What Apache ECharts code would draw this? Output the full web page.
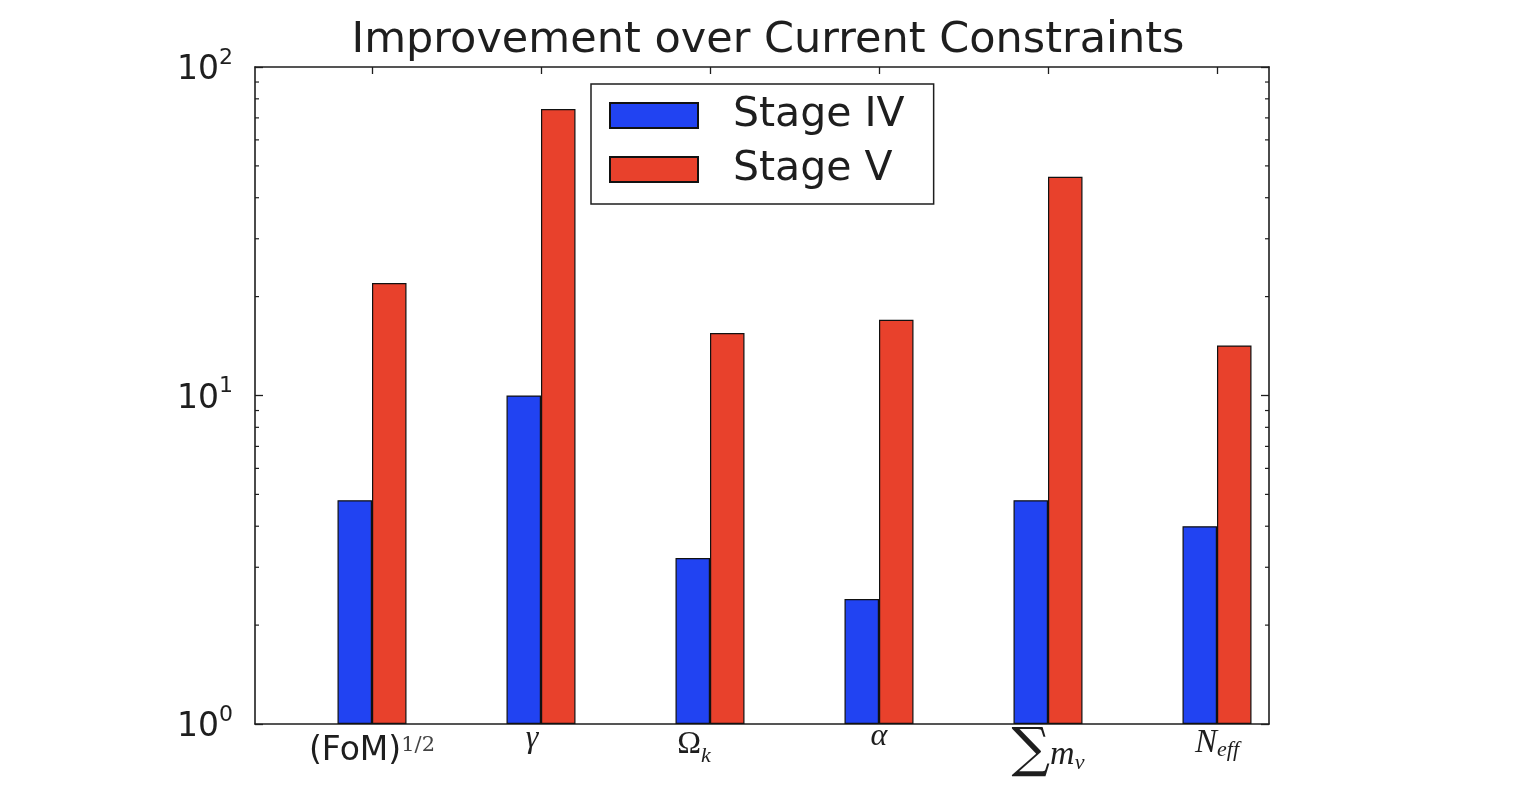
<!DOCTYPE html>
<html>
<head>
<meta charset="utf-8">
<script src="https://cdn.jsdelivr.net/npm/echarts@6/dist/echarts.min.js"></script>
<style>html,body{margin:0;padding:0;background:#fff;}#c{width:1537px;height:798px;}</style>
</head>
<body>
<div id="c"></div>
<script>
const categories = ['FoM', 'gamma', 'Omega_k', 'alpha', 'sum_m_nu', 'N_eff'];
const stageIV = [4.8, 10.0, 3.2, 2.4, 4.8, 4.0];
const stageV = [22.0, 74.5, 15.5, 17.0, 46.3, 14.2];
const yTickValues = [1, 10, 100];
const seriesNames = ['Stage IV', 'Stage V'];
const titleText = 'Improvement over Current Constraints';

const catLabel = {
  'FoM': '{fom|(FoM)}{fsup|1/2}',
  'gamma': '{gam|γ}',
  'Omega_k': '{om|Ω}{omk|k}',
  'alpha': '{alp|α}',
  'sum_m_nu': '{sig|∑}{mm|m}{nu|ν}',
  'N_eff': '{nn|N}{eff|eff}'
};

// minor tick positions of the log axis (2..9 in each decade)
const minorTicks = [];
for (let d = yTickValues[0]; d < yTickValues[yTickValues.length - 1]; d *= 10) for (let k = 2; k <= 9; k++) minorTicks.push([0, k * d]);

const chart = echarts.init(document.getElementById('c'), null, {renderer: 'canvas'});
const ink = '#1e1e1e';
function frameLine() { return {show: true, onZero: false, lineStyle: {color: ink, width: 1.6}}; }
function tok(family, italic, size, padTop, color, padRight) {
  return {fontFamily: family, fontStyle: italic ? 'italic' : 'normal', fontSize: size,
    color: color || ink, verticalAlign: 'top', padding: [padTop, padRight || 0, 0, 0]};
}

chart.setOption({
  backgroundColor: '#fff',
  animation: false,
  title: {
    text: titleText, left: 763, top: 14, textAlign: 'center',
    textStyle: {fontFamily: 'DejaVu Sans', fontSize: 43, fontWeight: 'normal', color: ink}
  },
  legend: {
    data: seriesNames, orient: 'vertical', left: 591, top: 84,
    icon: 'rect',
    itemWidth: 88, itemHeight: 25, itemGap: 13,
    padding: [11, 29, 14, 18],
    backgroundColor: '#fff', borderColor: ink, borderWidth: 1.5,
    textStyle: {fontFamily: 'DejaVu Sans', fontSize: 41, color: ink, lineHeight: 40, padding: [0, 0, 0, 30]}
  },
  grid: [
    {left: 255, top: 67, width: 1014, height: 657},
    {left: 287.5, top: 67, width: 1014, height: 657}
  ],
  xAxis: [
    {type: 'value', gridIndex: 0, min: 0, max: 1, position: 'bottom', axisLine: frameLine(), axisTick: {show: false}, axisLabel: {show: false}, splitLine: {show: false}},
    {type: 'value', gridIndex: 0, min: 0, max: 1, position: 'top', axisLine: frameLine(), axisTick: {show: false}, axisLabel: {show: false}, splitLine: {show: false}},
    {type: 'category', gridIndex: 1, data: categories, position: 'bottom',
      axisLine: {show: false}, axisTick: {show: false},
      axisLabel: {
        margin: -4, interval: 0,
        formatter: v => catLabel[v],
        rich: {
          fom: tok('DejaVu Sans', false, 33, 15),
          fsup: tok('DejaVu Serif', false, 21, 15, '#444'),
          gam: tok('Liberation Serif', true, 32, 3, ink, 18),
          om: tok('Liberation Serif', false, 32, 9),
          omk: tok('Liberation Serif', true, 22, 25, ink, 32),
          alp: tok('Liberation Serif', true, 32, 1),
          sig: tok('DejaVu Serif', false, 54, 5),
          mm: tok('Liberation Serif', true, 34, 18),
          nu: tok('Liberation Serif', true, 22, 32),
          nn: tok('Liberation Serif', true, 33, 7),
          eff: tok('Liberation Serif', true, 22, 19)
        }
      },
      splitLine: {show: false}
    },
    {type: 'category', gridIndex: 1, data: categories, position: 'top',
      axisLine: {show: false}, axisLabel: {show: false},
      axisTick: {show: true, inside: true, alignWithLabel: true, length: 7, lineStyle: {color: ink, width: 1.3}},
      splitLine: {show: false}
    }
  ],
  yAxis: [
    {type: 'log', gridIndex: 0, logBase: 10, min: 1, max: 100, position: 'left',
      axisLine: frameLine(),
      axisTick: {show: true, inside: true, length: 8, lineStyle: {color: ink, width: 1.3}},
      axisLabel: {
        margin: 22,
        formatter: v => '{b|10}{e|' + Math.round(Math.log10(v)) + '}',
        rich: {
          b: {fontFamily: 'DejaVu Sans', fontSize: 33, color: ink, verticalAlign: 'bottom', lineHeight: 32},
          e: {fontFamily: 'DejaVu Sans', fontSize: 22, color: ink, verticalAlign: 'top', lineHeight: 40}
        }
      },
      splitLine: {show: false}
    },
    {type: 'log', gridIndex: 0, logBase: 10, min: 1, max: 100, position: 'right',
      axisLine: frameLine(),
      axisTick: {show: true, inside: true, length: 8, lineStyle: {color: ink, width: 1.3}},
      axisLabel: {show: false}, splitLine: {show: false}
    },
    {type: 'log', gridIndex: 1, logBase: 10, min: 1, max: 100, show: false}
  ],
  series: [
    {name: seriesNames[0], type: 'bar', xAxisIndex: 2, yAxisIndex: 2, data: stageIV,
      barWidth: 34.5, barGap: '0%',
      itemStyle: {color: '#2143f2', borderColor: '#111', borderWidth: 1.2}},
    {name: seriesNames[1], type: 'bar', xAxisIndex: 2, yAxisIndex: 2, data: stageV,
      barWidth: 34.5, barGap: '0%',
      itemStyle: {color: '#e8412c', borderColor: '#111', borderWidth: 1.2}},
    {type: 'custom', xAxisIndex: 0, yAxisIndex: 0, data: minorTicks, silent: true, z: 5,
      renderItem: function (params, api) {
        const v = api.value(1);
        const pL = api.coord([0, v]);
        const pR = api.coord([1, v]);
        const st = {stroke: ink, lineWidth: 1.2};
        return {type: 'group', children: [
          {type: 'line', shape: {x1: pL[0], y1: pL[1], x2: pL[0] + 4, y2: pL[1]}, style: st},
          {type: 'line', shape: {x1: pR[0] - 4, y1: pR[1], x2: pR[0], y2: pR[1]}, style: st}
        ]};
      }
    }
  ]
});
</script>
</body>
</html>
